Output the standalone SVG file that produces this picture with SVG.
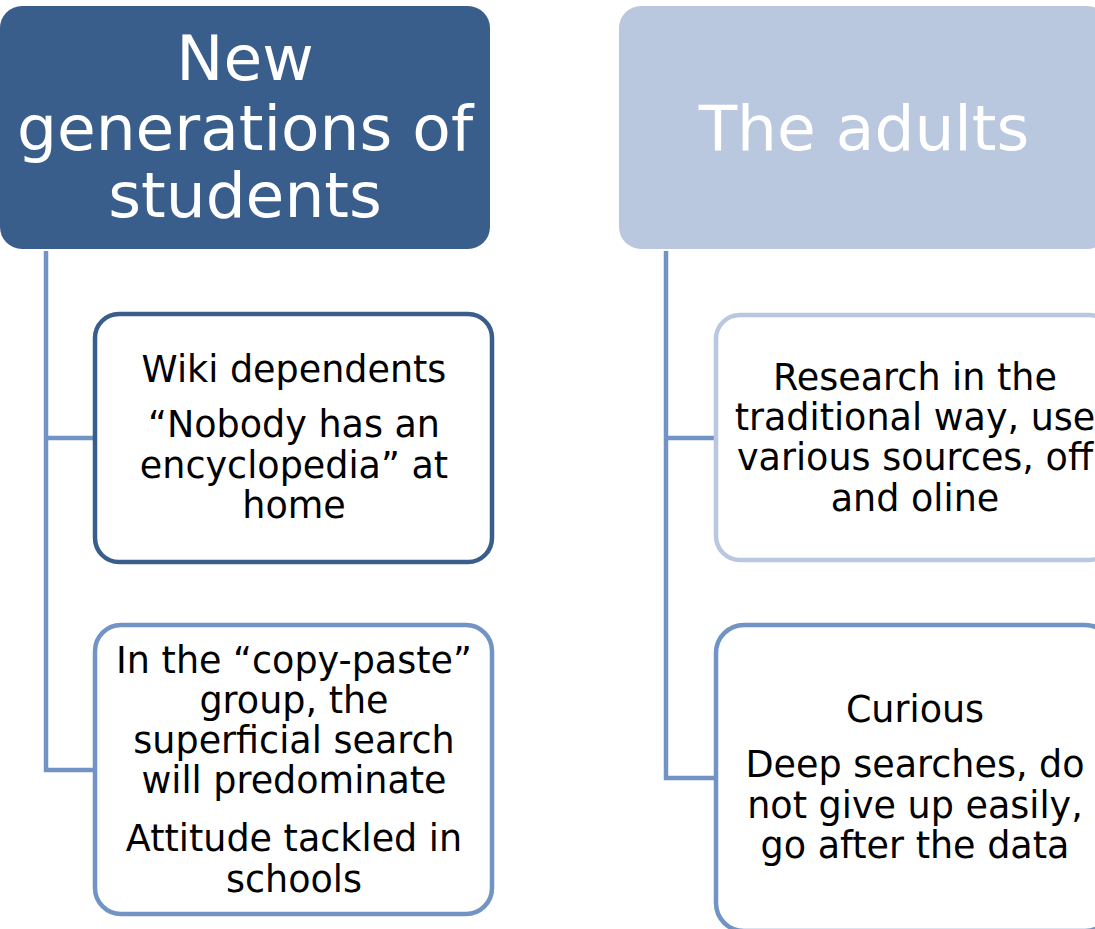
<svg xmlns="http://www.w3.org/2000/svg" width="1095" height="929" viewBox="0 0 1095 929">
<style>
.hdr{font-family:"DejaVu Sans",Verdana,sans-serif;font-size:63px;fill:#ffffff;text-anchor:middle}
.txt{font-family:"DejaVu Sans",Verdana,sans-serif;font-size:36.5px;fill:#000000;text-anchor:middle}
.conn{fill:none;stroke:#7294C4;stroke-width:4.5}
.box{fill:#ffffff;stroke-width:4.5}
</style>
<rect width="1095" height="929" fill="#ffffff"/>
<g id="connectors">
<path class="conn" d="M46,251 V770 H95 M46,438 H95"/>
<path class="conn" d="M666,251 V778 H716 M666,438 H716"/>
</g>
<g id="header-students">
<rect x="0" y="6" width="490" height="243" rx="22" fill="#3A5E8B"/>
<text class="hdr" x="245" y="80">New</text>
<text class="hdr" x="245" y="150">generations of</text>
<text class="hdr" x="245" y="217">students</text>
</g>
<g id="header-adults">
<rect x="619" y="6" width="490" height="243" rx="22" fill="#B9C7DF"/>
<text class="hdr" x="864" y="150">The adults</text>
</g>
<g id="wiki">
<rect class="box" x="95" y="314" width="397" height="248" rx="24" stroke="#3A5E8B"/>
<text class="txt" x="294" y="382">Wiki dependents</text>
<text class="txt" x="294" y="437">“Nobody has an</text>
<text class="txt" x="294" y="478">encyclopedia” at</text>
<text class="txt" x="294" y="518">home</text>
</g>
<g id="copypaste">
<rect class="box" x="95" y="625" width="397" height="289" rx="26" stroke="#7294C4"/>
<text class="txt" x="294" y="673">In the “copy-paste”</text>
<text class="txt" x="294" y="713">group, the</text>
<text class="txt" x="294" y="753">superficial search</text>
<text class="txt" x="294" y="793">will predominate</text>
<text class="txt" x="294" y="851">Attitude tackled in</text>
<text class="txt" x="294" y="892">schools</text>
</g>
<g id="research">
<rect class="box" x="716" y="315" width="397" height="245" rx="24" stroke="#B9C7DF"/>
<text class="txt" x="915" y="390">Research in the</text>
<text class="txt" x="915" y="430">traditional way, use</text>
<text class="txt" x="915" y="470">various sources, off</text>
<text class="txt" x="915" y="511">and oline</text>
</g>
<g id="curious">
<rect class="box" x="716" y="625" width="397" height="306" rx="28" stroke="#7294C4"/>
<text class="txt" x="915" y="722">Curious</text>
<text class="txt" x="915" y="777">Deep searches, do</text>
<text class="txt" x="915" y="818">not give up easily,</text>
<text class="txt" x="915" y="858">go after the data</text>
</g>
</svg>
